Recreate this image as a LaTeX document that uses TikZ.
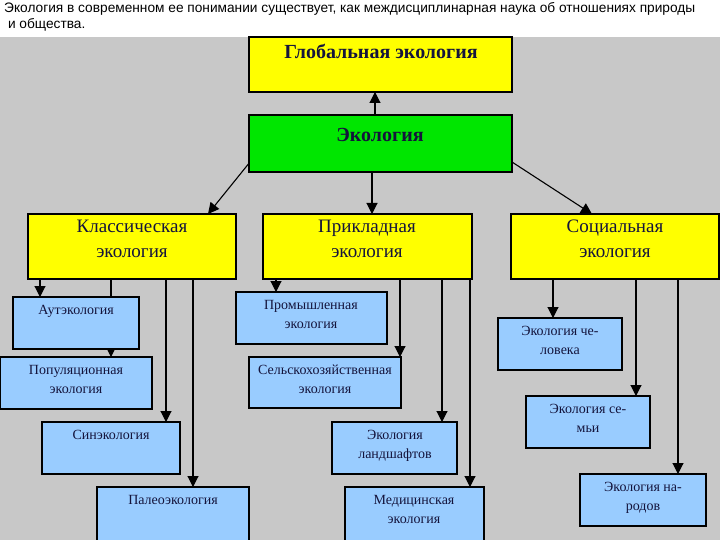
\documentclass[tikz,border=0pt]{standalone}
\usepackage{fontspec}
\setmainfont{Liberation Serif}
\newfontfamily\arial{Liberation Sans}
\usetikzlibrary{arrows.meta}
\definecolor{bg}{RGB}{200,200,200}
\definecolor{yel}{RGB}{255,255,0}
\definecolor{grn}{RGB}{0,230,0}
\definecolor{blu}{RGB}{153,204,255}
\definecolor{txt}{RGB}{20,20,60}
\tikzset{x=1pt,y=-1pt,
 arr/.style={-{Triangle[length=11pt,width=11pt]},line width=1.1pt},
 ybox/.style={draw,line width=1.1pt,fill=yel},
 bbox/.style={draw,line width=1.1pt,fill=blu},
 lbl/.style={anchor=north,align=center,text=txt,inner sep=0pt}}
\begin{document}
\begin{tikzpicture}
\useasboundingbox (0,0) rectangle (720,540);
\fill[white] (0,0) rectangle (720,540);
\fill[bg] (0,37) rectangle (720,540);
\node[anchor=north west,inner sep=0pt,align=left,font=\arial\fontsize{13.7}{16}\selectfont] (t) at (4,2) {Экология в современном ее понимании существует, как междисциплинарная наука об отношениях природы\\ \ и общества.};
% arrows
\coordinate (e1) at (375,115); \coordinate (g1) at (375,92);
\draw[arr] (e1) -- (g1);
\coordinate (e2) at (250,162); \coordinate (c1) at (208,214);
\draw[arr] (e2) -- (c1);
\coordinate (e3) at (372,172); \coordinate (a1) at (372,214);
\draw[arr] (e3) -- (a1);
\coordinate (e4) at (512,162); \coordinate (s1) at (592,214);
\draw[arr] (e4) -- (s1);
\foreach \x/\yb in {40/297,111/357,166/422,193/487,276/292,400/357,442/422,470/487,553/318,636/396,678/474}{
 \draw[arr] (\x,279) -- (\x,\yb);}
% boxes
\path[ybox] (249,37) rectangle (512,92);
\node[lbl,font=\bfseries\fontsize{20}{22}\selectfont] (glob) at (381,44) {Глобальная экология};
\path[draw,line width=1.1pt,fill=grn] (249,115) rectangle (512,172);
\node[lbl,font=\bfseries\fontsize{20}{22}\selectfont] (eco) at (380,128) {Экология};
\tikzset{bg/.style={lbl,font=\fontsize{19}{25}\selectfont}}
\path[ybox] (28,214) rectangle (236,279);
\node[bg] (cl) at (132,220) {Классическая\\экология};
\path[ybox] (263,214) rectangle (472,279);
\node[bg] (ap) at (367,220) {Прикладная\\экология};
\path[ybox] (511,214) rectangle (719,279);
\node[bg] (so) at (615,220) {Социальная\\экология};
\tikzset{sm/.style={lbl,font=\fontsize{14}{19}\selectfont}}
\path[bbox] (13,297) rectangle (139,349); \node[sm] (n1) at (76,305) {Аутэкология};
\path[bbox] (0,357) rectangle (152,409); \node[sm] (n2) at (76,365) {Популяционная\\экология};
\path[bbox] (42,422) rectangle (180,474); \node[sm] (n3) at (111,430) {Синэкология};
\path[bbox] (97,487) rectangle (249,541); \node[sm] (n4) at (173,495) {Палеоэкология};
\path[bbox] (236,292) rectangle (387,344); \node[sm] (n5) at (311,300) {Промышленная\\экология};
\path[bbox] (249,357) rectangle (401,408); \node[sm] (n6) at (325,365) {Сельскохозяйственная\\экология};
\path[bbox] (332,422) rectangle (457,474); \node[sm] (n7) at (395,430) {Экология\\ландшафтов};
\path[bbox] (345,487) rectangle (484,541); \node[sm] (n8) at (414,495) {Медицинская\\экология};
\path[bbox] (498,318) rectangle (622,370); \node[sm] (n9) at (560,326) {Экология че-\\ловека};
\path[bbox] (526,396) rectangle (650,448); \node[sm] (n10) at (588,404) {Экология се-\\мьи};
\path[bbox] (580,474) rectangle (706,526); \node[sm] (n11) at (643,482) {Экология на-\\родов};
\end{tikzpicture}
\end{document}
